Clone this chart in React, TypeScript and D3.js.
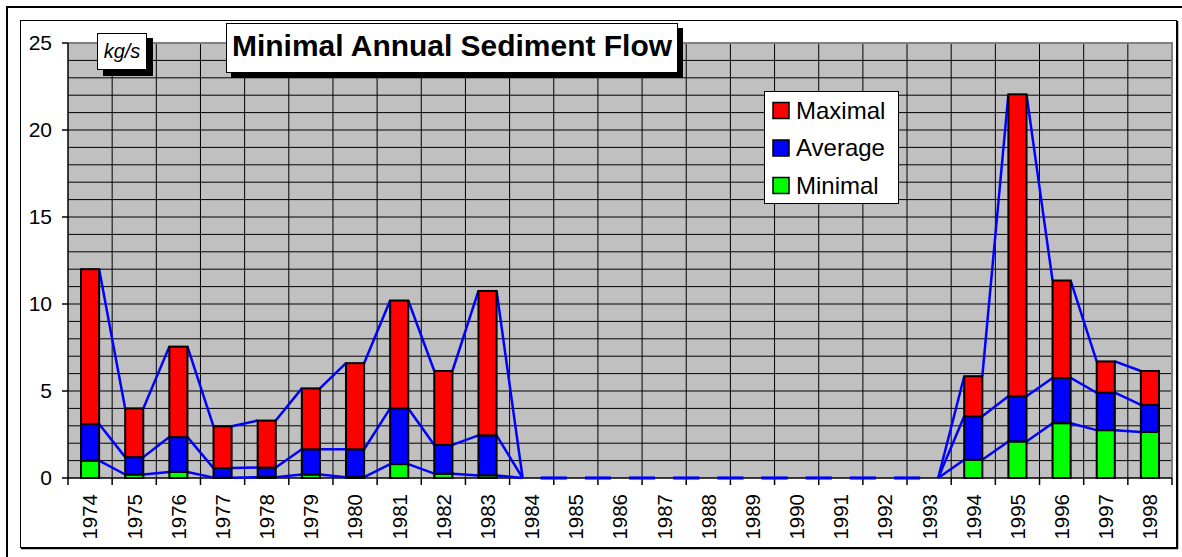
// Minimal Annual Sediment Flow — stacked column chart (Excel-style) with series lines.
//   • Stacked columns: Minimal (green) / Average (blue) / Maximal (red)
//   • Blue series lines join the top of each stacked level between neighbouring bars
//   • D3 owns the <svg> through a ref, same as our other charts.

import * as d3 from "d3";
import React, { useEffect, useRef } from "react";

// ── Data ──────────────────────────────────────────────────────────────────────
const YEARS = [
  "1974", "1975", "1976", "1977", "1978", "1979", "1980", "1981", "1982",
  "1983", "1984", "1985", "1986", "1987", "1988", "1989", "1990", "1991",
  "1992", "1993", "1994", "1995", "1996", "1997", "1998",
];

const MINIMAL = [
  1.0, 0.2, 0.35, 0.02, 0.05, 0.2, 0.05, 0.8, 0.25, 0.15,
  0, 0, 0, 0, 0, 0, 0, 0, 0, 0,
  1.05, 2.1, 3.15, 2.75, 2.65,
];

const AVERAGE = [
  2.1, 1.0, 2.0, 0.55, 0.55, 1.45, 1.6, 3.2, 1.65, 2.3,
  0, 0, 0, 0, 0, 0, 0, 0, 0, 0,
  2.5, 2.6, 2.6, 2.15, 1.55,
];

const MAXIMAL = [
  8.9, 2.8, 5.2, 2.4, 2.7, 3.5, 4.95, 6.2, 4.25, 8.3,
  0, 0, 0, 0, 0, 0, 0, 0, 0, 0,
  2.3, 17.35, 5.6, 1.8, 1.95,
];

const Y_TICKS = [0, 5, 10, 15, 20, 25];

const SERIES = ["Minimal", "Average", "Maximal"] as const;
type SeriesKey = (typeof SERIES)[number];

const COLORS: Record<SeriesKey, string> = {
  Minimal: "#00ff00",
  Average: "#0000ff",
  Maximal: "#ff0000",
};

const W = 1182;
const H = 557;
const FONT = "Arial, 'Liberation Sans', Helvetica, sans-serif";

// plot area
const PX0 = 68;
const PX1 = 1172;
const PY0 = 43;
const PY1 = 478;

export default function App() {
  const svgRef = useRef<SVGSVGElement>(null);

  useEffect(() => {
    const svg = d3.select(svgRef.current);
    svg.selectAll("*").remove();

    const rows = YEARS.map((year, i) => ({
      year,
      Minimal: MINIMAL[i],
      Average: AVERAGE[i],
      Maximal: MAXIMAL[i],
    }));

    const stacked = d3.stack<(typeof rows)[number], SeriesKey>().keys(SERIES)(rows);

    const x = d3.scaleBand<string>().domain(YEARS).range([PX0, PX1]).padding(0);
    const y = d3.scaleLinear().domain([0, 25]).range([PY1, PY0]);
    const barW = x.bandwidth() * 0.41;
    const barX = (yr: string) => (x(yr) ?? 0) + (x.bandwidth() - barW) / 2;

    // ── Frames ───────────────────────────────────────────────────────────────
    svg.append("rect").attr("width", W).attr("height", H).attr("fill", "#fff");
    svg
      .append("rect")
      .attr("x", 7).attr("y", 7)
      .attr("width", W + 20).attr("height", H + 20)
      .attr("fill", "none").attr("stroke", "#000").attr("stroke-width", 2);
    // chart area box + its little shadow on right/bottom
    svg
      .append("path")
      .attr("d", `M1177.5,21 V548.5 H21`)
      .attr("fill", "none").attr("stroke", "#000").attr("stroke-width", 1.5);
    svg
      .append("rect")
      .attr("x", 20.5).attr("y", 20.5)
      .attr("width", 1156).attr("height", 527)
      .attr("fill", "#fff").attr("stroke", "#000").attr("stroke-width", 1);

    // ── Plot background + grid ───────────────────────────────────────────────
    svg
      .append("rect")
      .attr("x", PX0).attr("y", PY0)
      .attr("width", PX1 - PX0).attr("height", PY1 - PY0)
      .attr("fill", "#c0c0c0");

    const grid = svg.append("g").attr("stroke", "#000").attr("stroke-width", 1);
    grid
      .selectAll("line.h")
      .data(d3.range(1, 25))
      .join("line")
      .attr("class", "h")
      .attr("x1", PX0).attr("x2", PX1)
      .attr("y1", (d) => y(d)).attr("y2", (d) => y(d));
    grid
      .selectAll("line.v")
      .data(YEARS.slice(1))
      .join("line")
      .attr("class", "v")
      .attr("x1", (d) => x(d) ?? 0).attr("x2", (d) => x(d) ?? 0)
      .attr("y1", PY0).attr("y2", PY1);

    // plot border (grey, top + right)
    svg
      .append("path")
      .attr("d", `M${PX0},${PY0} H${PX1} V${PY1}`)
      .attr("fill", "none").attr("stroke", "#808080").attr("stroke-width", 2);

    // ── Axis lines + ticks (under the series lines) ──────────────────────────
    const axes = svg.append("g").attr("stroke", "#000").attr("stroke-width", 1.5);
    axes.append("line").attr("x1", PX0).attr("x2", PX0).attr("y1", PY0).attr("y2", PY1);
    axes.append("line").attr("x1", PX0).attr("x2", PX1).attr("y1", PY1).attr("y2", PY1);
    axes
      .selectAll("line.yt")
      .data(Y_TICKS)
      .join("line")
      .attr("class", "yt")
      .attr("x1", PX0 - 6).attr("x2", PX0)
      .attr("y1", (d) => y(d)).attr("y2", (d) => y(d));
    axes
      .selectAll("line.xt")
      .data([...YEARS.map((d) => x(d) ?? 0), PX1])
      .join("line")
      .attr("class", "xt")
      .attr("x1", (d) => d).attr("x2", (d) => d)
      .attr("y1", PY1).attr("y2", PY1 + 7);

    // ── Series lines ─────────────────────────────────────────────────────────
    const lines = svg.append("g").attr("stroke", "#0000ff").attr("stroke-width", 2.5).attr("fill", "none");
    stacked.forEach((layer) => {
      for (let i = 0; i < YEARS.length - 1; i++) {
        lines
          .append("line")
          .attr("x1", barX(YEARS[i]) + barW)
          .attr("y1", y(layer[i][1]))
          .attr("x2", barX(YEARS[i + 1]))
          .attr("y2", y(layer[i + 1][1]));
      }
    });

    // ── Bars ─────────────────────────────────────────────────────────────────
    svg
      .append("g")
      .selectAll("g")
      .data(stacked)
      .join("g")
      .attr("fill", (d) => COLORS[d.key])
      .selectAll("rect")
      .data((d) => d.filter((p) => p[1] - p[0] > 0))
      .join("rect")
      .attr("x", (d) => barX(d.data.year))
      .attr("y", (d) => y(d[1]))
      .attr("width", barW)
      .attr("height", (d) => y(d[0]) - y(d[1]))
      .attr("stroke", "#000")
      .attr("stroke-width", 2);

    // ── Tick labels ──────────────────────────────────────────────────────────
    svg
      .append("g")
      .selectAll("text")
      .data(Y_TICKS)
      .join("text")
      .attr("x", 52)
      .attr("y", (d) => y(d))
      .attr("dy", "0.35em")
      .attr("text-anchor", "end")
      .attr("font-family", FONT)
      .attr("font-size", 21)
      .text((d) => String(d));

    svg
      .append("g")
      .selectAll("text")
      .data(YEARS)
      .join("text")
      .attr(
        "transform",
        (d) => `translate(${(x(d) ?? 0) + x.bandwidth() / 2},${PY1 + 16}) rotate(-90)`
      )
      .attr("dy", "0.36em")
      .attr("text-anchor", "end")
      .attr("font-family", FONT)
      .attr("font-size", 20.5)
      .text((d) => d);

    // ── Unit box ─────────────────────────────────────────────────────────────
    svg.append("rect").attr("x", 103).attr("y", 38).attr("width", 50).attr("height", 38).attr("fill", "#000");
    svg
      .append("rect")
      .attr("x", 97.5).attr("y", 33.5).attr("width", 49).attr("height", 36)
      .attr("fill", "#fff").attr("stroke", "#000").attr("stroke-width", 1);
    svg
      .append("text")
      .attr("x", 122).attr("y", 58)
      .attr("text-anchor", "middle")
      .attr("font-family", FONT).attr("font-style", "italic").attr("font-size", 20)
      .text("kg/s");

    // ── Title box ────────────────────────────────────────────────────────────
    svg.append("rect").attr("x", 231).attr("y", 28).attr("width", 452).attr("height", 50).attr("fill", "#000");
    svg
      .append("rect")
      .attr("x", 226.5).attr("y", 23.5).attr("width", 451).attr("height", 49)
      .attr("fill", "#fff").attr("stroke", "#000").attr("stroke-width", 1);
    svg
      .append("text")
      .attr("x", 452).attr("y", 56)
      .attr("text-anchor", "middle")
      .attr("font-family", FONT).attr("font-weight", "bold").attr("font-size", 29)
      .attr("textLength", 440).attr("lengthAdjust", "spacingAndGlyphs")
      .text("Minimal Annual Sediment Flow");

    // ── Legend ───────────────────────────────────────────────────────────────
    const legend = svg.append("g");
    legend
      .append("rect")
      .attr("x", 764.5).attr("y", 91.5).attr("width", 134).attr("height", 112)
      .attr("fill", "#fff").attr("stroke", "#000").attr("stroke-width", 1);
    const order: SeriesKey[] = ["Maximal", "Average", "Minimal"];
    const items = legend
      .selectAll("g")
      .data(order)
      .join("g")
      .attr("transform", (_, i) => `translate(0,${i * 37.5})`);
    items
      .append("rect")
      .attr("x", 773).attr("y", 102.5).attr("width", 16).attr("height", 16)
      .attr("fill", (d) => COLORS[d]).attr("stroke", "#000").attr("stroke-width", 1.5);
    items
      .append("text")
      .attr("x", 796).attr("y", 118.5)
      .attr("font-family", FONT).attr("font-size", 24)
      .text((d) => d);
  }, []);

  return (
    <svg
      ref={svgRef}
      width={W}
      height={H}
      viewBox={`0 0 ${W} ${H}`}
      style={{ position: "absolute", left: 0, top: 0, display: "block" }}
    />
  );
}
